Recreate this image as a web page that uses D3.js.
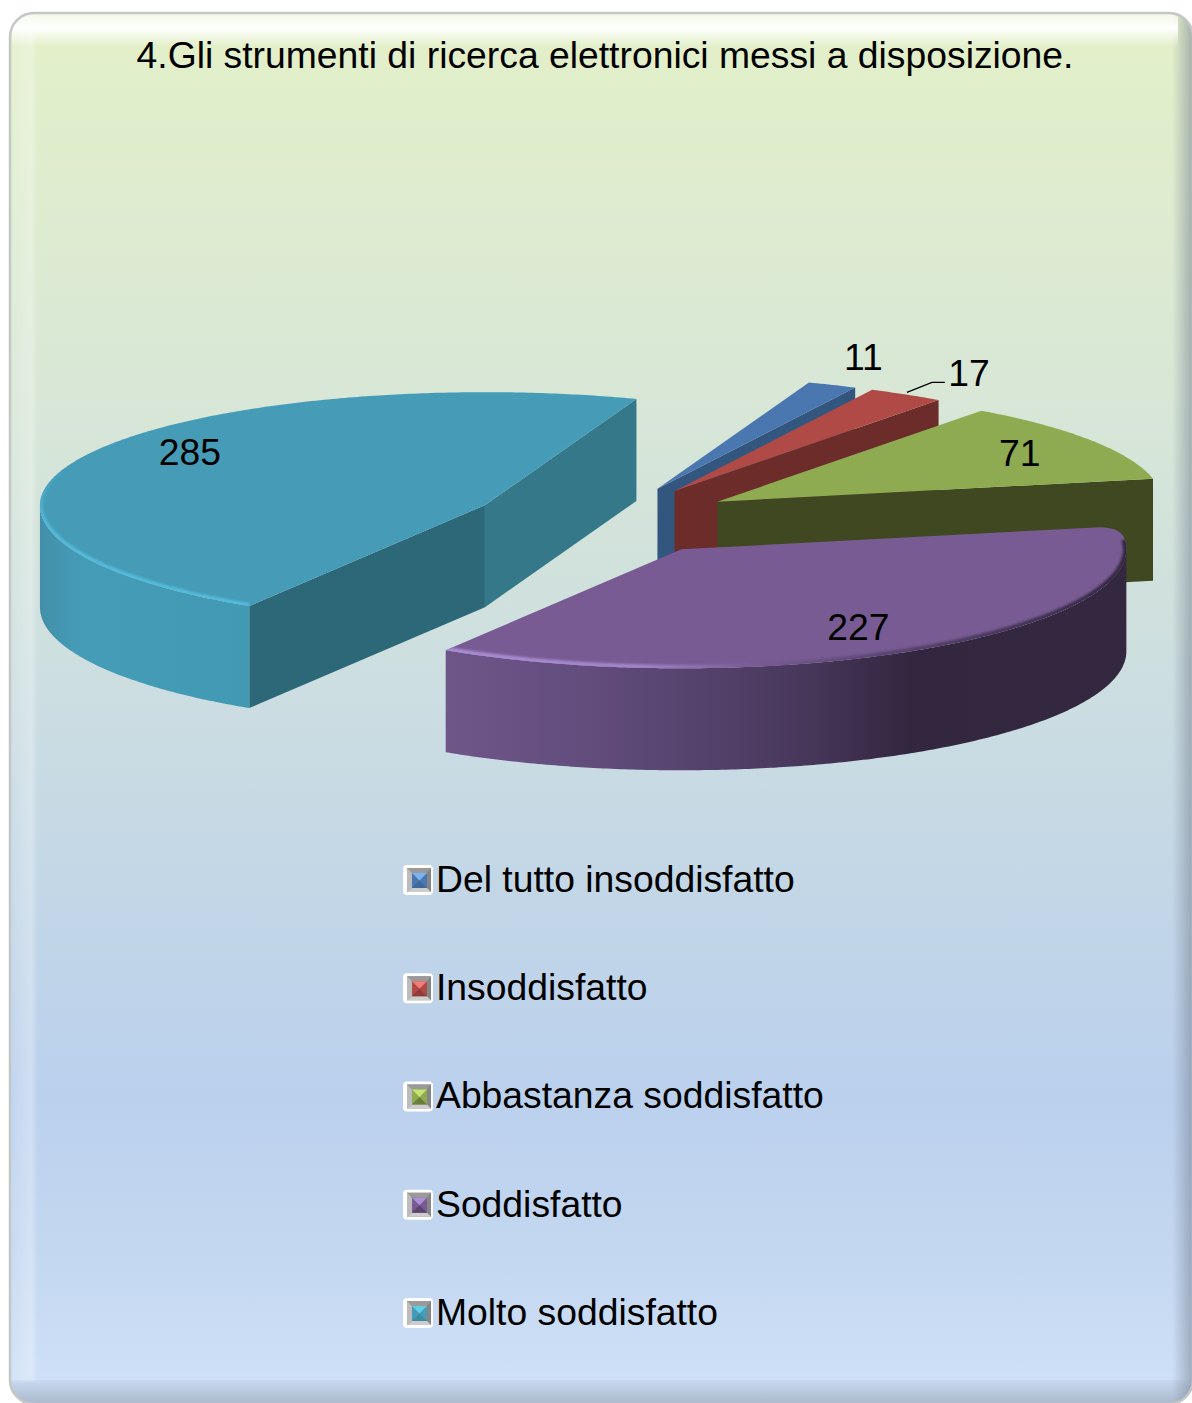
<!DOCTYPE html>
<html lang="it">
<head>
    <meta charset="UTF-8">
    <title>Gli strumenti di ricerca elettronici</title>
    <script src="https://d3js.org/d3.v7.min.js"></script>
    <style>
        body {
            margin: 0;
            padding: 0;
            background: #fff;
            overflow: hidden;
        }

        svg {
            display: block;
        }

        text {
            font-family: "Liberation Sans", Arial, sans-serif;
            fill: #000;
        }
    </style>
</head>
<body>
    <svg id="chart" width="1192" height="1403"></svg>
    <script>
        // Chart data
        var chartTitle = '4.Gli strumenti di ricerca elettronici messi a disposizione.';
        var categories = ['Del tutto insoddisfatto', 'Insoddisfatto', 'Abbastanza soddisfatto', 'Soddisfatto', 'Molto soddisfatto'];
        var values = [11, 17, 71, 227, 285];

        // Colours per slice: top face, end wall, light tone of the legend key
        var topColors = ['#4a77b0', '#af4a47', '#8eab52', '#775b92', '#469cb6'];
        var wallColors = ['#33567f', '#6b2c2a', '#3f4820', '#332840', '#347889'];
        var keyLight = ['#7cb4f0', '#f27c76', '#c6e470', '#ab90d6', '#5fcde2'];

        // Pie layout: tilted disc, every slice pulled out by the same share of the radius
        var width = 1192, height = 1403;
        var centerX = 605, centerY = 520;
        var radiusX = 445, radiusBack = 113, radiusFront = 119;
        var depth = 102;
        var explode = 0.3;

        // Label placement per slice: share of radius, then a small nudge in pixels
        var labelLayout = [[1.2, -4, -8], [1.24, 7, 1], [0.81, -1, 0], [0.75, -14, 4], [0.74, 1, -17]];

        var svg = d3.select('#chart');
        var defs = svg.append('defs');

        var x = d3.scaleLinear().domain([-1, 1]).range([-radiusX, radiusX]);
        var y = d3.scaleLinear().domain([-1, 0, 1]).range([-radiusBack, 0, radiusFront]);

        var pie = d3.pie().sort(null)
            .startAngle(19.9 * Math.PI / 180)
            .endAngle(379.9 * Math.PI / 180);

        var slices = pie(values).map(function(d, i) {
            var mid = (d.startAngle + d.endAngle) / 2;
            return {
                index: i,
                value: d.value,
                start: d.startAngle,
                end: d.endAngle,
                mid: mid,
                apex: [centerX + explode * x(Math.sin(mid)), centerY + explode * y(-Math.cos(mid))]
            };
        });

        function rimPoint(s, angle, drop) {
            return [s.apex[0] + x(Math.sin(angle)), s.apex[1] + y(-Math.cos(angle)) + (drop || 0)];
        }

        function rimPoints(s, from, to, drop) {
            var n = Math.max(2, Math.ceil((to - from) / 0.01));
            return d3.range(n + 1).map(function(k) {
                return rimPoint(s, from + (to - from) * k / n, drop);
            });
        }

        var line = d3.line();

        function gradient(id, attrs, stops) {
            var g = defs.append('linearGradient').attr('id', id).attr('gradientUnits', 'userSpaceOnUse');
            Object.keys(attrs).forEach(function(k) { g.attr(k, attrs[k]); });
            stops.forEach(function(s) {
                g.append('stop').attr('offset', s[0]).attr('stop-color', s[1]).attr('stop-opacity', s[2] === undefined ? 1 : s[2]);
            });
        }

        // Card background and its bevel
        gradient('cardFill', {x1: 0, y1: 13, x2: 0, y2: 1403}, [
            [0, '#e3f0c8'], [0.27, '#d8e7d6'], [0.5, '#cbdde1'], [0.64, '#c2d6e7'],
            [0.78, '#bbd0ed'], [0.89, '#c3d7f0'], [1, '#d0e1f8']
        ]);
        gradient('bevelTop', {x1: 0, y1: 15, x2: 0, y2: 47}, [[0, '#fff', 0.6], [0.4, '#fff', 1], [0.65, '#fff', 0.55], [1, '#fff', 0]]);
        gradient('bevelLeft', {x1: 11, y1: 0, x2: 38, y2: 0}, [[0, '#fff', 0.1], [0.75, '#fff', 0.3], [1, '#fff', 0]]);
        gradient('bevelRight', {x1: 1172, y1: 0, x2: 1193, y2: 0}, [[0, '#7b8797', 0], [1, '#7b8797', 0.6]]);
        gradient('bevelBottom', {x1: 0, y1: 1380, x2: 0, y2: 1404}, [[0, '#7b8797', 0.08], [1, '#7b8797', 0.45]]);

        defs.append('clipPath').attr('id', 'cardClip').append('rect')
            .attr('x', 10).attr('y', 13).attr('width', 1183).attr('height', 1391).attr('rx', 24);

        var card = svg.append('g').attr('clip-path', 'url(#cardClip)');
        card.append('rect').attr('width', width).attr('height', height).attr('fill', 'url(#cardFill)');
        card.append('rect').attr('width', 38).attr('height', 1382).attr('fill', 'url(#bevelLeft)');
        card.append('rect').attr('x', 1172).attr('width', 21).attr('height', height).attr('fill', 'url(#bevelRight)');
        card.append('rect').attr('y', 1380).attr('width', width).attr('height', 24).attr('fill', 'url(#bevelBottom)');
        card.append('rect').attr('x', 12).attr('width', 1166).attr('height', 48).attr('fill', 'url(#bevelTop)');
        svg.append('rect').attr('x', 10).attr('y', 13).attr('width', 1183).attr('height', 1391).attr('rx', 24)
            .attr('fill', 'none').attr('stroke', '#c3c7c6').attr('stroke-width', 2.5);

        // Title
        svg.append('text')
            .attr('x', 605).attr('y', 68)
            .attr('text-anchor', 'middle')
            .style('font-size', '37.3px')
            .text(chartTitle);

        // Gradients of the curved walls and rim highlights
        gradient('wall3', {x1: 444, y1: 0, x2: 1127, y2: 0}, [
            [0, '#6f5689'], [0.22, '#614c7c'], [0.5, '#4b3a5f'], [0.68, '#332740'], [1, '#332840']
        ]);
        gradient('wall4', {x1: 40, y1: 0, x2: 249, y2: 0}, [[0, '#438fa9'], [0.2, '#459cb7'], [1, '#4299b4']]);
        gradient('rim3', {x1: 444, y1: 0, x2: 1127, y2: 0}, [
            [0, '#ab8cd4'], [0.28, '#a285c8'], [0.46, '#775b92'], [0.62, '#5d4775'], [1, '#332840']
        ]);
        gradient('rim4', {x1: 0, y1: 470, x2: 0, y2: 530}, [[0, '#55bbdc', 0], [1, '#55bbdc', 1]]);

        defs.append('filter').attr('id', 'soft').append('feGaussianBlur').attr('stdDeviation', 1);

        function wallPath(s, angle) {
            var a = s.apex, p = rimPoint(s, angle);
            return line([a, p, [p[0], p[1] + depth], [a[0], a[1] + depth]]) + 'Z';
        }

        // Top face, the big front slice has a visibly rounded outer corner
        function topPath(s) {
            if (s.index !== 3) {
                return line([s.apex].concat(rimPoints(s, s.start, s.end, 0))) + 'Z';
            }
            var corner = rimPoint(s, s.start);
            var before = [s.apex[0] + (corner[0] - s.apex[0]) * 0.96, s.apex[1] + (corner[1] - s.apex[1]) * 0.96];
            var rim = rimPoints(s, s.start + 0.14, s.end, 0);
            var p = d3.path();
            p.moveTo(s.apex[0], s.apex[1]);
            p.lineTo(before[0], before[1]);
            p.quadraticCurveTo(corner[0] + 6, corner[1] + 1, rim[0][0], rim[0][1]);
            rim.forEach(function(r) { p.lineTo(r[0], r[1]); });
            p.closePath();
            return p.toString();
        }

        // Draw slices back to front
        var pieGroup = svg.append('g');
        var drawOrder = [0, 1, 2, 4, 3];

        drawOrder.forEach(function(i) {
            var s = slices[i];
            var g = pieGroup.append('g').attr('class', 'slice');

            // flat walls, only those facing the viewer
            if (Math.sin(s.start) < 0) {
                g.append('path').attr('d', wallPath(s, s.start)).attr('fill', '#2d6878');
            }
            if (Math.sin(s.end) > 0) {
                g.append('path').attr('d', wallPath(s, s.end)).attr('fill', wallColors[i]);
            }

            // curved wall, front half of the disc only
            var from = Math.max(s.start, Math.PI / 2);
            var to = Math.min(s.end, 3 * Math.PI / 2);
            if (to > from) {
                var top = rimPoints(s, from, to, 0);
                var bottom = rimPoints(s, from, to, depth).reverse();
                g.append('path')
                    .attr('d', line(top.concat(bottom)) + 'Z')
                    .attr('fill', 'url(#wall' + i + ')');
            }

            // top face
            var face = topPath(s);
            g.append('path').attr('d', face).attr('fill', topColors[i]);

            // soft bevel along the front rim
            if (to > from) {
                defs.append('clipPath').attr('id', 'topClip' + i).append('path').attr('d', face);
                var rimFrom = i === 3 ? s.start + 0.12 : from;
                var rimTo = i === 4 ? 3 * Math.PI / 2 + 0.35 : to;
                g.append('g').attr('clip-path', 'url(#topClip' + i + ')')
                    .append('path')
                    .attr('d', line(rimPoints(s, rimFrom, rimTo, 0)))
                    .attr('fill', 'none')
                    .attr('stroke', 'url(#rim' + i + ')')
                    .attr('stroke-width', i === 3 ? 7 : 6)
                    .attr('filter', 'url(#soft)');
            }
        });

        // Data labels
        slices.forEach(function(s) {
            var lay = labelLayout[s.index];
            var lx = s.apex[0] + lay[0] * x(Math.sin(s.mid)) + lay[1];
            var ly = s.apex[1] + lay[0] * y(-Math.cos(s.mid)) + lay[2];
            svg.append('text')
                .attr('x', lx).attr('y', ly).attr('dy', '0.36em')
                .attr('text-anchor', 'middle')
                .style('font-size', '37.3px')
                .text(s.value);

            // leader line of the small red slice
            if (s.index === 1) {
                svg.append('path')
                    .attr('d', line([[lx - 62, ly + 20], [lx - 37, ly + 10], [lx - 24, ly + 10]]))
                    .attr('fill', 'none').attr('stroke', '#000').attr('stroke-width', 1.3);
            }
        });

        // Legend
        var legendY = d3.scaleLinear().domain([0, categories.length - 1]).range([880, 1313]);
        var legend = svg.append('g').selectAll('g')
            .data(categories)
            .enter().append('g')
            .attr('transform', function(d, i) { return 'translate(404,' + (legendY(i) - 15) + ')'; });

        legend.each(function(d, i) {
            var k = d3.select(this);
            k.append('rect').attr('x', -1).attr('width', 30).attr('height', 30).attr('rx', 4).attr('fill', '#fff');
            k.append('rect').attr('x', 3).attr('y', 3).attr('width', 24).attr('height', 24).attr('fill', '#8f8f8f');
            k.append('path').attr('d', 'M3 3H27L23 8H8Z').attr('fill', '#9a9a9a');
            k.append('path').attr('d', 'M3 3L8 8V23L3 27Z').attr('fill', '#bcbcbc');
            k.append('path').attr('d', 'M27 3L23 8V23L27 27Z').attr('fill', '#858585');
            k.append('path').attr('d', 'M3 27L8 23H23L27 27Z').attr('fill', '#cdcdcd');
            k.append('rect').attr('x', 8).attr('y', 8).attr('width', 15).attr('height', 15).attr('fill', topColors[i]);
            k.append('path').attr('d', 'M8 8H23L15.5 15.5Z').attr('fill', keyLight[i]);
            k.append('path').attr('d', 'M8 23H23L15.5 15.5Z').attr('fill', wallColors[i]).attr('opacity', 0.45);
            k.append('text')
                .attr('x', 32).attr('y', 13.5).attr('dy', '0.36em')
                .style('font-size', '37.3px')
                .text(d);
        });
    </script>
</body>
</html>
